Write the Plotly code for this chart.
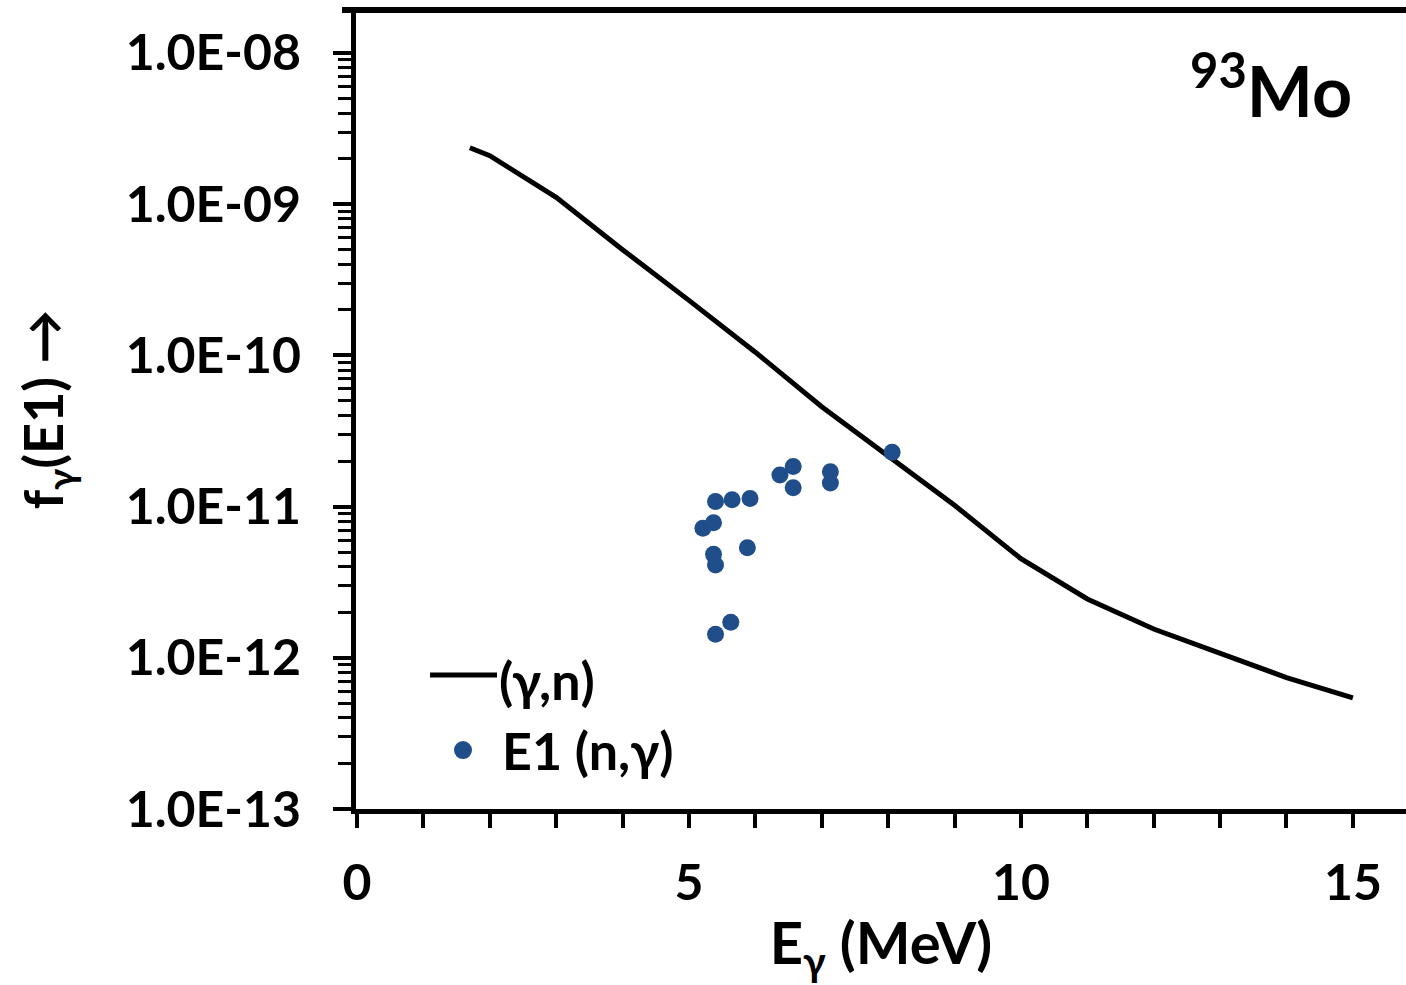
import plotly.graph_objects as go

# (gamma,n) photon strength function curve
curve_e = [1.7, 2, 3, 4, 5, 6, 7, 8, 9, 10, 11, 12, 13, 14, 15]
curve_f = [2.36e-9, 2.09e-9, 1.11e-9, 5.0e-10, 2.31e-10, 1.05e-10, 4.57e-11,
           2.14e-11, 1.02e-11, 4.52e-12, 2.45e-12, 1.55e-12, 1.07e-12, 7.4e-13, 5.43e-13]

# E1 strengths from (n,gamma)
ng_e = [8.06, 6.37, 6.57, 6.57, 7.13, 7.13, 5.40, 5.65, 5.92, 5.21, 5.37, 5.37,
        5.40, 5.88, 5.63, 5.40]
ng_f = [2.29e-11, 1.62e-11, 1.84e-11, 1.33e-11, 1.70e-11, 1.43e-11, 1.08e-11,
        1.11e-11, 1.13e-11, 7.18e-12, 7.83e-12, 4.83e-12, 4.11e-12, 5.35e-12,
        1.72e-12, 1.43e-12]

y_major = [1e-13, 1e-12, 1e-11, 1e-10, 1e-9, 1e-8]
y_labels = ["1.0E-13", "1.0E-12", "1.0E-11", "1.0E-10", "1.0E-09", "1.0E-08"]
y_minor = [k * d for d in [1e-13, 1e-12, 1e-11, 1e-10, 1e-9] for k in range(2, 10)]
x_major = [0, 5, 10, 15]
x_labels = ["0", "5", "10", "15"]
x_minor = [v for v in range(0, 16) if v % 5]

FONT = "Lato"
BLUE = "#1f4e8a"
TICK_SIZE = 50

fig = go.Figure()
fig.add_trace(go.Scatter(x=curve_e, y=curve_f, mode="lines",
                         line=dict(color="black", width=5), showlegend=False))
fig.add_trace(go.Scatter(x=ng_e, y=ng_f, mode="markers",
                         marker=dict(color=BLUE, size=17), showlegend=False))

fig.update_layout(
    width=1406, height=985,
    margin=dict(l=356, r=0, t=10, b=176),
    paper_bgcolor="white", plot_bgcolor="white",
    font=dict(family=FONT, color="black", size=TICK_SIZE, weight=700),
    xaxis=dict(
        range=[-0.015, 15.80], showgrid=False, zeroline=False,
        showline=True, linecolor="black", linewidth=5,
        tickmode="array", tickvals=x_major, ticktext=x_labels,
        ticks="outside", ticklen=14, tickwidth=4, tickcolor="black",
        ticklabelstandoff=12,
        tickfont=dict(family=FONT, size=TICK_SIZE, weight=700),
        minor=dict(tickmode="array", tickvals=x_minor, ticks="outside",
                   ticklen=14, tickwidth=4, tickcolor="black"),
        title=dict(text="E<sub>γ</sub> (MeV)", standoff=4,
                   font=dict(family=FONT, size=58, weight=700)),
    ),
    yaxis=dict(
        type="log", range=[-13, -7.716], showgrid=False, zeroline=False,
        showline=True, linecolor="black", linewidth=5,
        tickmode="array", tickvals=y_major, ticktext=y_labels,
        ticks="outside", ticklen=18, tickwidth=4, tickcolor="black",
        ticklabelstandoff=22,
        tickfont=dict(family=FONT, size=TICK_SIZE, weight=700),
        minor=dict(tickmode="array", tickvals=y_minor, ticks="outside",
                   ticklen=13, tickwidth=3, tickcolor="black"),
        title=dict(text="f<sub>γ</sub>(E1) →", standoff=46,
                   font=dict(family=FONT, size=54, weight=700)),
    ),
)

# frame line along the top
fig.add_shape(type="line", xref="paper", yref="paper", x0=-0.0133, x1=1.0, y0=1.0, y1=1.0,
              line=dict(color="black", width=6))

# nucleus label
fig.add_annotation(xref="paper", yref="paper", x=0.950, y=0.905, xanchor="right",
                   yanchor="middle", showarrow=False,
                   text="<sup>93</sup>Mo", font=dict(family=FONT, size=70, weight=700))

# key
fig.add_shape(type="line", xref="paper", yref="paper", x0=0.0705, x1=0.1343,
              y0=0.1677, y1=0.1677, line=dict(color="black", width=5))
fig.add_shape(type="circle", xref="paper", yref="paper", xsizemode="pixel",
              ysizemode="pixel", xanchor=0.1019, yanchor=0.0738,
              x0=-9, x1=9, y0=-9, y1=9, fillcolor=BLUE, line=dict(width=0))
fig.add_annotation(xref="paper", yref="paper", x=0.134, y=0.162, xanchor="left",
                   yanchor="middle", showarrow=False, text="(γ,n)",
                   font=dict(family=FONT, size=52, weight=700))
fig.add_annotation(xref="paper", yref="paper", x=0.137, y=0.074, xanchor="left",
                   yanchor="middle", showarrow=False, text="E1 (n,γ)",
                   font=dict(family=FONT, size=52, weight=700))

fig.write_html("out.html")
